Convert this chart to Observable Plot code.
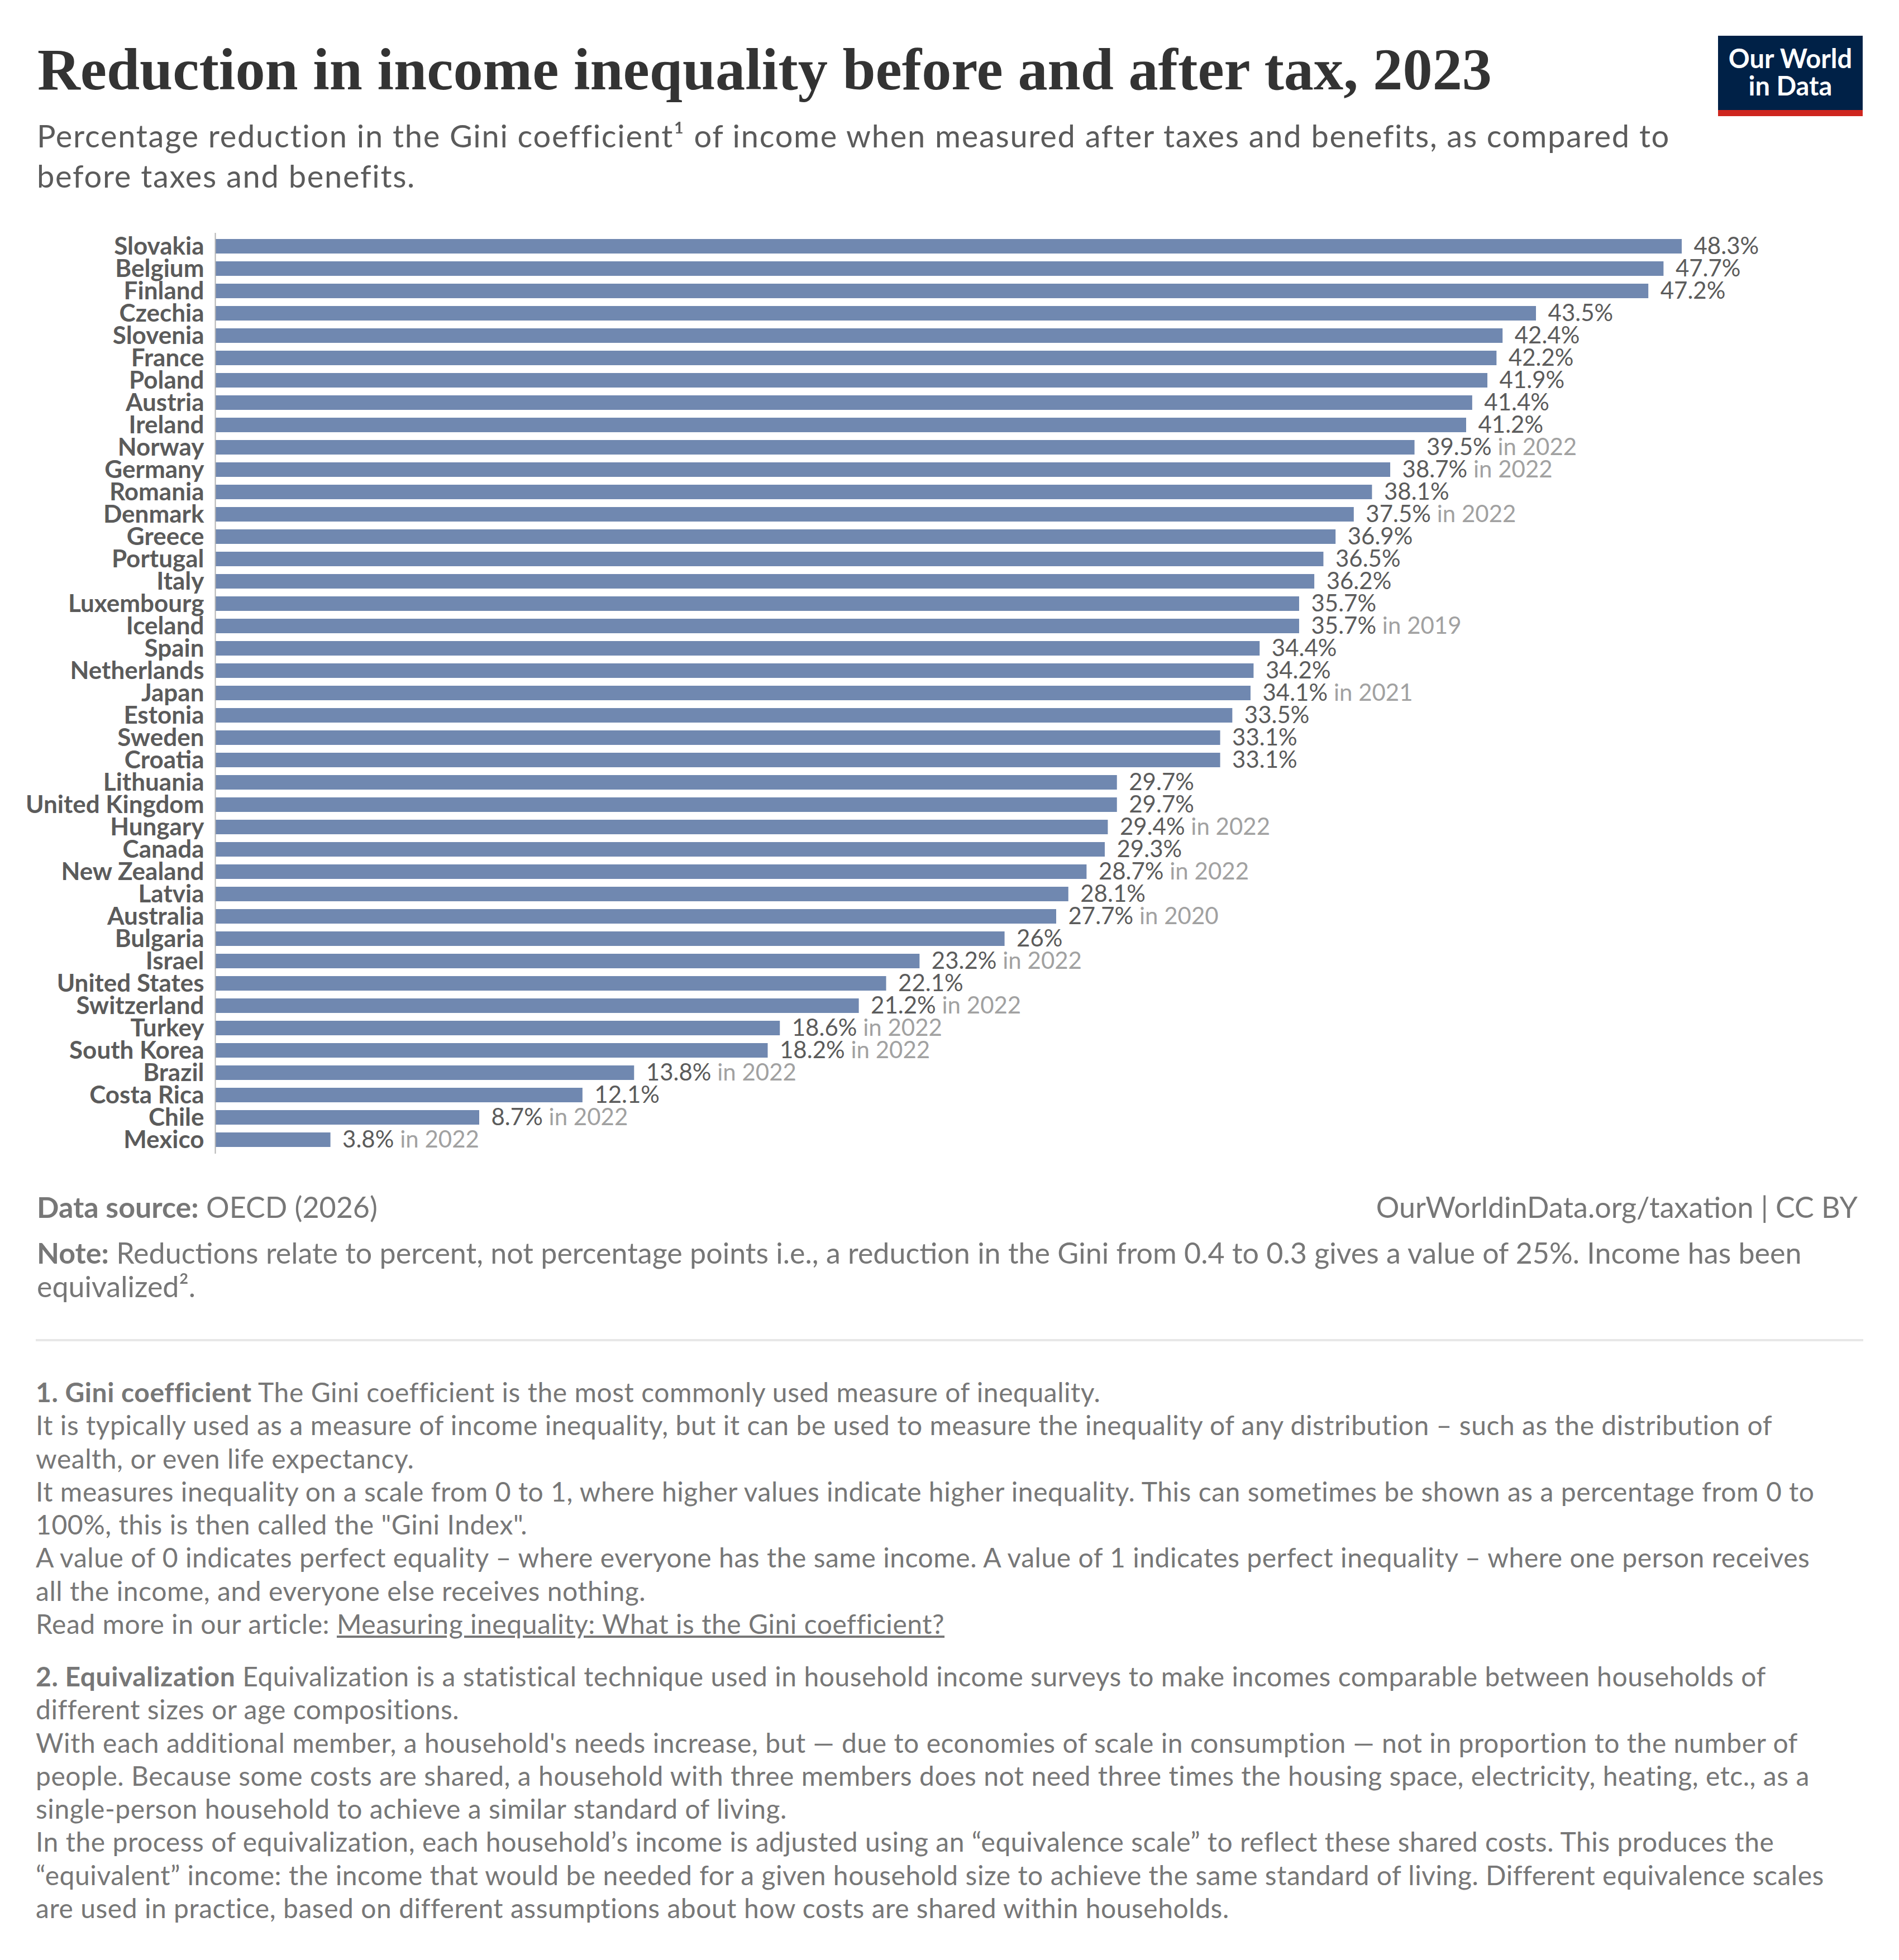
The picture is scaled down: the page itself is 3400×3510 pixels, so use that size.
<!DOCTYPE html>
<html>
<head>
<meta charset="utf-8">
<script src="https://cdn.jsdelivr.net/npm/d3@7"></script>
<script src="https://cdn.jsdelivr.net/npm/@observablehq/plot@0.6"></script>
<style>
  html, body { margin: 0; padding: 0; background: #fff; }
  #page { position: relative; width: 3400px; height: 3510px; background: #fff; font-family: Lato, "Noto Sans", sans-serif; overflow: hidden; }
  .abs { position: absolute; white-space: nowrap; }
  #title { left: 67px; top: 72px; font-family: "Liberation Serif", "DejaVu Serif", serif; font-weight: 700; font-size: 106px; line-height: 106px; color: #333; transform-origin: 0 0; }
  #subtitle { left: 66px; top: 207px; font-size: 56px; line-height: 72px; color: #5b5b5b; }
  #logo { left: 3076px; top: 64px; width: 259px; height: 133px; background: #002147; border-bottom: 11px solid #ce261e; color: #fff; font-weight: 700; font-size: 47px; line-height: 49px; text-align: center; box-sizing: content-box; }
  #logo div { position: relative; top: 16px; }
  #chart { position: absolute; left: 0; top: 390px; }
  .foot { color: #777; font-size: 52px; line-height: 60px; }
  #source { left: 66px; top: 2131px; }
  #url { right: 74px; top: 2131px; text-align: right; }
  #note { left: 66px; top: 2213px; }
  #sep { position: absolute; left: 64px; top: 2398px; width: 3272px; height: 4px; background: #e7e7e7; }
  .fn { color: #777; font-size: 48px; line-height: 59.3px; left: 64px; }
  #fn1 { top: 2463px; }
  #fn2 { top: 2972px; }
  b { font-weight: 700; }
  a { color: inherit; text-decoration: underline; }
</style>
</head>
<body>
<div id="page">
  <div id="title" class="abs">Reduction in income inequality before and after tax, 2023</div>
  <div id="subtitle" class="abs">Percentage reduction in the Gini coefficient¹ of income when measured after taxes and benefits, as compared to<br>before taxes and benefits.</div>
  <div id="logo" class="abs"><div>Our World<br>in Data</div></div>
  <div id="chart"></div>
  <div id="source" class="abs foot"><b>Data source:</b> OECD (2026)</div>
  <div id="url" class="abs foot">OurWorldinData.org/taxation | CC BY</div>
  <div id="note" class="abs foot"><b>Note:</b> Reductions relate to percent, not percentage points i.e., a reduction in the Gini from 0.4 to 0.3 gives a value of 25%. Income has been<br>equivalized².</div>
  <div id="sep"></div>
  <div id="fn1" class="abs fn"><b>1. Gini coefficient</b> The Gini coefficient is the most commonly used measure of inequality.<br>It is typically used as a measure of income inequality, but it can be used to measure the inequality of any distribution – such as the distribution of<br>wealth, or even life expectancy.<br>It measures inequality on a scale from 0 to 1, where higher values indicate higher inequality. This can sometimes be shown as a percentage from 0 to<br>100%, this is then called the "Gini Index".<br>A value of 0 indicates perfect equality – where everyone has the same income. A value of 1 indicates perfect inequality – where one person receives<br>all the income, and everyone else receives nothing.<br>Read more in our article: <a>Measuring inequality: What is the Gini coefficient?</a></div>
  <div id="fn2" class="abs fn"><b>2. Equivalization</b> Equivalization is a statistical technique used in household income surveys to make incomes comparable between households of<br>different sizes or age compositions.<br>With each additional member, a household's needs increase, but — due to economies of scale in consumption — not in proportion to the number of<br>people. Because some costs are shared, a household with three members does not need three times the housing space, electricity, heating, etc., as a<br>single-person household to achieve a similar standard of living.<br>In the process of equivalization, each household’s income is adjusted using an “equivalence scale” to reflect these shared costs. This produces the<br>“equivalent” income: the income that would be needed for a given household size to achieve the same standard of living. Different equivalence scales<br>are used in practice, based on different assumptions about how costs are shared within households.</div>
</div>
<script>
const countries = ["Slovakia","Belgium","Finland","Czechia","Slovenia","France","Poland","Austria","Ireland","Norway","Germany","Romania","Denmark","Greece","Portugal","Italy","Luxembourg","Iceland","Spain","Netherlands","Japan","Estonia","Sweden","Croatia","Lithuania","United Kingdom","Hungary","Canada","New Zealand","Latvia","Australia","Bulgaria","Israel","United States","Switzerland","Turkey","South Korea","Brazil","Costa Rica","Chile","Mexico"];
const values = [48.3,47.7,47.2,43.5,42.4,42.2,41.9,41.4,41.2,39.5,38.7,38.1,37.5,36.9,36.5,36.2,35.7,35.7,34.4,34.2,34.1,33.5,33.1,33.1,29.7,29.7,29.4,29.3,28.7,28.1,27.7,26,23.2,22.1,21.2,18.6,18.2,13.8,12.1,8.7,3.8];
const years = [null,null,null,null,null,null,null,null,null,2022,2022,null,2022,null,null,null,null,2019,null,null,2021,null,null,null,null,null,2022,null,2022,null,2020,null,2022,null,2022,2022,2022,2022,null,2022,2022];

const data = countries.map((c, i) => ({country: c, value: values[i], year: years[i]}));

const chart = Plot.plot({
  width: 3400,
  height: 1690,
  marginTop: 27,
  marginBottom: 14,
  marginLeft: 385,
  marginRight: 389,
  style: {fontFamily: "Lato, sans-serif", background: "transparent", overflow: "visible"},
  x: {domain: [0, d3.max(values)], axis: null},
  y: {type: "band", domain: countries, paddingInner: 0.34, paddingOuter: 0.17, label: null},
  marks: [
    Plot.barX(data, {x: "value", y: "country", fill: "#7088b0"}),
    Plot.ruleX([0], {stroke: "#b3b3b3", strokeWidth: 2}),
    Plot.axisY({tickSize: 0, tickPadding: 20, fontSize: 44, fontWeight: "bold", color: "#5b5b5b", label: null}),
    Plot.text(data, {x: "value", y: "country", text: d => `${d.value}%`, textAnchor: "start", dx: 21, fontSize: 42, fill: "#5b5b5b"})
  ]
});
document.getElementById("chart").appendChild(chart);

// grey "in YEAR" suffix after each value label
d3.select(chart).selectAll('g[aria-label="text"] text').each(function(_, i) {
  const y = data[i] && data[i].year;
  if (y) {
    d3.select(this).append("tspan").attr("fill", "#a1a1a1").text(` in ${y}`);
  }
});
d3.select(chart).selectAll('g[aria-label="y-axis tick label"] text').attr("font-weight", "bold").attr("fill", "#5b5b5b");

const ctx = document.createElement("canvas").getContext("2d");
function spacingFor(text, font, target) {
  ctx.font = font;
  const w = ctx.measureText(text).width;
  return (target - w) / text.length;
}
function fitAll() {
  const t = document.getElementById("title");
  t.style.transform = "none";
  const w = t.getBoundingClientRect().width;
  t.style.transform = `scaleX(${2604 / w})`;

  const subLine = "Percentage reduction in the Gini coefficient¹ of income when measured after taxes and benefits, as compared to";
  const ls1 = spacingFor(subLine, "400 56px Lato", 2989 - 66);
  document.getElementById("subtitle").style.letterSpacing = `${Math.max(0, ls1)}px`;

  const fnLine = "It is typically used as a measure of income inequality, but it can be used to measure the inequality of any distribution – such as the distribution of";
  const ls2 = spacingFor(fnLine, "400 48px Lato", 3180 - 64);
  document.getElementById("fn1").style.letterSpacing = `${Math.max(0, ls2)}px`;
  document.getElementById("fn2").style.letterSpacing = `${Math.max(0, ls2)}px`;
}
fitAll();
if (document.fonts && document.fonts.ready) document.fonts.ready.then(fitAll);
</script>
</body>
</html>
